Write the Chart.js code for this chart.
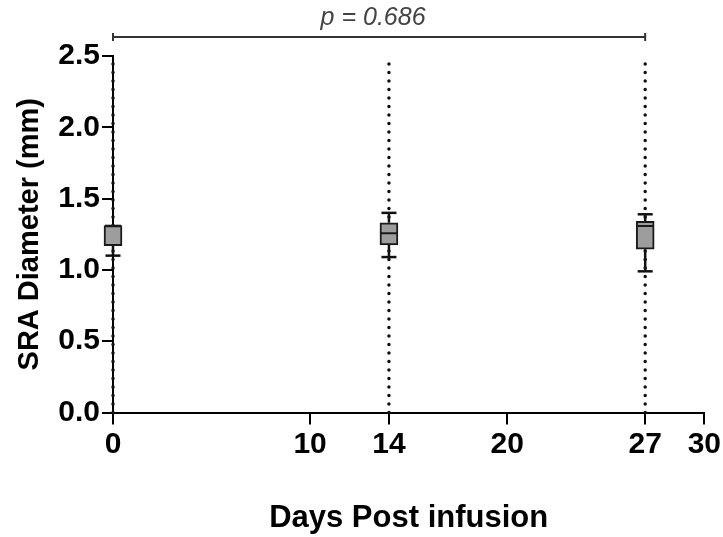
<!DOCTYPE html>
<html>
<head>
<meta charset="utf-8">
<title>SRA Diameter</title>
<script src="https://cdn.jsdelivr.net/npm/chart.js@4/dist/chart.umd.min.js"></script>
<style>
    html, body { margin: 0; padding: 0; background: #fff; }
    #wrap { width: 723px; height: 537px; }
</style>
</head>
<body>
<div id="wrap"><canvas id="boxChart"></canvas></div>
<script>
// days sampled and the box-plot summary for each
const days = [0, 14, 27];
const whiskerLow = [1.10, 1.09, 0.99];
const q1 = [1.17, 1.175, 1.145];
const median = [1.31, 1.257, 1.308];
const q3 = [1.31, 1.33, 1.34];
const whiskerHigh = [1.31, 1.40, 1.39];

const xTicks = [0, 10, 14, 20, 27, 30];
const yTicks = [0, 0.5, 1.0, 1.5, 2.0, 2.5];

const compareFrom = 0;
const compareTo = 27;
const compareLabel = "p = 0.686";

Chart.defaults.font.family = "'Liberation Sans', Arial, sans-serif";
Chart.defaults.color = "#000";

// vertical dotted guides at each sampled day, full y range
const guideData = [];
days.forEach(d => {
    guideData.push({ x: d, y: yTicks[0] });
    guideData.push({ x: d, y: yTicks[yTicks.length - 1] });
    guideData.push({ x: d, y: null });
});

const whiskerData = [];
days.forEach((d, i) => {
    whiskerData.push({ x: d, y: whiskerLow[i] }, { x: d, y: q1[i] }, { x: d, y: null });
    whiskerData.push({ x: d, y: q3[i] }, { x: d, y: whiskerHigh[i] }, { x: d, y: null });
});

const capData = [];
days.forEach((d, i) => {
    capData.push({ x: d, y: whiskerLow[i] });
    if (whiskerHigh[i] > q3[i]) capData.push({ x: d, y: whiskerHigh[i] });
});

const comparePlugin = {
    id: "compareBracket",
    afterDraw(chart) {
        const { ctx, chartArea, scales } = chart;
        const x0 = scales.x.getPixelForValue(compareFrom);
        const x1 = scales.x.getPixelForValue(compareTo);
        const y = chartArea.top - 19;
        ctx.save();
        ctx.strokeStyle = "#333";
        ctx.lineWidth = 2;
        ctx.beginPath();
        ctx.moveTo(x0, y);
        ctx.lineTo(x1, y);
        ctx.moveTo(x0, y - 4);
        ctx.lineTo(x0, y + 4);
        ctx.moveTo(x1, y - 4);
        ctx.lineTo(x1, y + 4);
        ctx.stroke();
        ctx.fillStyle = "#444";
        ctx.font = "italic 25px 'Liberation Sans', Arial, sans-serif";
        ctx.textAlign = "center";
        ctx.textBaseline = "middle";
        ctx.fillText(compareLabel, (x0 + x1) / 2 - 6, y - 19);
        ctx.restore();
    }
};

new Chart(document.getElementById("boxChart"), {
    type: "bar",
    data: {
        datasets: [
            {
                type: "line",
                data: guideData,
                borderColor: "#111",
                borderWidth: 3.5,
                borderDash: [0, 8.5],
                borderCapStyle: "round",
                pointRadius: 0,
                spanGaps: false,
                clip: false,
                order: 5
            },
            {
                type: "line",
                data: whiskerData,
                borderColor: "#111",
                borderWidth: 2.5,
                pointRadius: 0,
                spanGaps: false,
                clip: false,
                order: 4
            },
            {
                type: "bar",
                data: days.map((d, i) => ({ x: d, y: [q1[i], q3[i]] })),
                backgroundColor: "#9d9d9d",
                borderColor: "#1a1a1a",
                borderWidth: 2,
                borderSkipped: false,
                barThickness: 18,
                clip: false,
                order: 3
            },
            {
                type: "scatter",
                data: days.map((d, i) => ({ x: d, y: median[i] })),
                pointStyle: "line",
                pointRadius: 8,
                borderColor: "#1a1a1a",
                pointBorderWidth: 2,
                clip: false,
                order: 2
            },
            {
                type: "scatter",
                data: capData,
                pointStyle: "line",
                pointRadius: 7.5,
                borderColor: "#111",
                pointBorderWidth: 2.5,
                clip: false,
                order: 1
            }
        ]
    },
    options: {
        responsive: true,
        maintainAspectRatio: false,
        animation: false,
        events: [],
        layout: {
            padding: { top: 56, right: 16, left: 13, bottom: 0 }
        },
        plugins: {
            legend: { display: false },
            tooltip: { enabled: false }
        },
        scales: {
            x: {
                type: "linear",
                min: 0,
                max: 30,
                offset: false,
                afterBuildTicks: scale => {
                    scale.ticks = xTicks.map(v => ({ value: v }));
                },
                afterFit: scale => {
                    scale.height = 124.5;
                },
                border: { color: "#000", width: 2 },
                grid: {
                    offset: false,
                    drawOnChartArea: false,
                    color: "#000",
                    lineWidth: 2,
                    tickLength: 12
                },
                ticks: {
                    padding: 2,
                    maxRotation: 0,
                    font: { size: 30, weight: "bold" }
                },
                title: {
                    display: true,
                    text: "Days Post infusion",
                    padding: 0,
                    font: { size: 31, weight: "bold" }
                }
            },
            y: {
                min: 0,
                max: 2.5,
                afterBuildTicks: scale => {
                    scale.ticks = yTicks.map(v => ({ value: v }));
                },
                afterFit: scale => {
                    scale.width = 100;
                },
                border: { color: "#000", width: 2 },
                grid: {
                    drawOnChartArea: false,
                    color: "#000",
                    lineWidth: 2,
                    tickLength: 11
                },
                ticks: {
                    padding: 2,
                    font: { size: 30, weight: "bold" },
                    callback: v => v.toFixed(1)
                },
                title: {
                    display: true,
                    text: "SRA Diameter (mm)",
                    padding: 0,
                    font: { size: 29, weight: "bold" }
                }
            }
        }
    },
    plugins: [comparePlugin]
});
</script>
</body>
</html>
